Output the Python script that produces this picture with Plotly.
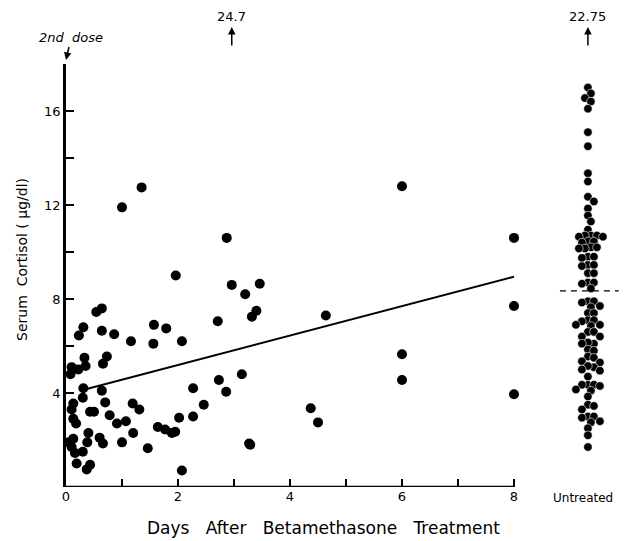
import plotly.graph_objects as go

# ---------------- data ----------------
treated_days = [1.0, 1.35, 1.96, 2.87, 2.96, 3.2, 3.46, 3.4, 3.32, 2.71, 0.54, 0.64,
                6.0, 8.0, 8.0, 8.0, 6.0, 6.0, 4.64, 4.37, 4.5, 3.29,
                1.57, 1.79, 1.56, 2.07, 1.16, 0.86, 0.64, 0.31, 0.23, 0.33, 0.73, 0.66,
                0.1, 0.22, 0.35, 0.31, 0.64, 0.3, 0.13, 0.1, 0.43, 0.5, 0.7, 0.78,
                1.19, 1.31, 0.91, 1.07, 0.13, 0.18, 0.4, 0.13, 0.6, 0.66, 0.38, 1.0,
                1.2, 1.46, 1.64, 1.77, 1.89, 1.95, 2.02, 2.27, 2.27, 2.46, 2.73, 2.86,
                3.14, 3.27, 2.07, 0.1, 0.16, 0.3, 0.19, 0.37, 0.43, 0.05, 0.08]
treated_cortisol = [11.9, 12.75, 9.0, 10.6, 8.6, 8.2, 8.65, 7.5, 7.25, 7.05, 7.45, 7.6,
                    12.8, 10.6, 7.7, 3.95, 5.65, 4.55, 7.3, 3.35, 2.75, 1.8,
                    6.9, 6.75, 6.1, 6.2, 6.2, 6.5, 6.65, 6.8, 6.45, 5.5, 5.55, 5.25,
                    5.1, 5.0, 5.15, 4.2, 4.1, 3.8, 3.55, 3.3, 3.2, 3.2, 3.6, 3.05,
                    3.55, 3.3, 2.7, 2.8, 2.9, 2.7, 2.3, 2.05, 2.1, 1.85, 1.9, 1.9,
                    2.3, 1.65, 2.55, 2.45, 2.3, 2.35, 2.95, 3.0, 4.2, 3.5, 4.55, 4.05,
                    4.8, 1.85, 0.7, 1.7, 1.45, 1.5, 1.0, 0.75, 0.95, 1.9, 4.8]

untreated_cortisol = [17.0, 16.75, 16.55, 16.4, 16.1, 15.1, 14.5, 13.35, 13.0, 12.35,
                      12.15, 11.85, 11.55, 11.3, 10.95, 10.7, 10.7, 10.65, 10.7, 10.65,
                      10.45, 10.45, 10.4, 10.2, 10.15, 10.2, 10.15, 9.8, 9.8, 9.75,
                      9.45, 9.45, 9.4, 9.1, 9.1, 8.7, 8.65, 8.7, 8.45, 7.9, 7.9, 7.85,
                      7.65, 7.7, 7.4, 7.4, 7.1, 7.1, 7.05, 6.9, 6.9, 6.85, 6.6, 6.6,
                      6.4, 6.4, 6.1, 6.15, 6.1, 5.85, 5.8, 5.55, 5.5, 5.35, 5.3, 5.1,
                      5.15, 5.0, 4.95, 4.7, 4.35, 4.35, 4.3, 4.35, 4.15, 4.1, 3.85,
                      3.5, 3.45, 3.3, 3.0, 3.0, 2.95, 2.8, 2.75, 2.5, 2.2, 1.7]
untreated_mean = 8.35

fit_days = [0.3, 8.0]
fit_cortisol = [4.13, 8.95]

offscale_labels = ["24.7", "22.75"]
offscale_days = [2.96, None]   # second one belongs to the untreated column

x_tickvals = [0, 1, 2, 3, 4, 5, 6, 7, 8]
x_ticktext = ["0", "", "2", "", "4", "", "6", "", "8"]
y_tickvals = [0, 2, 4, 6, 8, 10, 12, 14, 16, 18]
y_ticktext = ["", "", "4", "", "8", "", "12", "", "16", ""]

# ---------------- layout constants ----------------
W, H = 628, 541
ML, MR, MT, MB = 66, 2, 64, 54
XMAX, YMAX = 10.0, 18.0
PXX = (W - ML - MR) / XMAX      # px per day
PXY = (H - MT - MB) / YMAX      # px per ug/dl
PH = H - MT - MB
UNTREATED_X = 9.32
FONT = "DejaVu Sans"

# beeswarm offsets for the untreated column (computed in pixel space)
def swarm(vals, dmin=6.0, step=3.0):
    order = sorted(range(len(vals)), key=lambda i: -vals[i])
    placed, offs = [], [0.0] * len(vals)
    for i in order:
        yp = vals[i] * PXY
        k = 0
        while True:
            cand = [0.0] if k == 0 else [k * step, -k * step]
            ok = None
            for xo in cand:
                if all((xo - a) ** 2 + (yp - b) ** 2 >= dmin ** 2 for a, b in placed):
                    ok = xo
                    break
            if ok is not None:
                placed.append((ok, yp))
                offs[i] = ok / PXX
                break
            k += 1
    return offs

u_x = [UNTREATED_X + o for o in swarm(untreated_cortisol)]

fig = go.Figure()
fig.add_trace(go.Scatter(x=treated_days, y=treated_cortisol, mode="markers",
                         marker=dict(color="black", size=10), cliponaxis=False,
                         showlegend=False))
fig.add_trace(go.Scatter(x=u_x, y=untreated_cortisol, mode="markers",
                         marker=dict(color="black", size=8.5,
                                     line=dict(color="white", width=0.6)),
                         cliponaxis=False, showlegend=False))
fig.add_trace(go.Scatter(x=fit_days, y=fit_cortisol, mode="lines",
                         line=dict(color="black", width=2), showlegend=False))
fig.add_trace(go.Scatter(x=[UNTREATED_X - 0.5, UNTREATED_X + 0.55],
                         y=[untreated_mean, untreated_mean], mode="lines",
                         line=dict(color="black", width=1.2, dash="6px,5px"),
                         showlegend=False))

# x axis line only from 0 to 8
fig.add_shape(type="line", xref="x", yref="y", x0=0, x1=8, y0=0, y1=0,
              line=dict(color="black", width=2.5))

ann = []
# 2nd dose arrow
ann.append(dict(x=0, y=(H - MB - 60) / PH, xref="x", yref="paper",
                text="<i>2nd  dose</i>", showarrow=True, arrowhead=2, arrowsize=1,
                arrowwidth=1.5, arrowcolor="black", ax=5, ay=-22, standoff=0,
                font=dict(family=FONT, size=13, color="black")))
# off-scale values
for lab, xd in zip(offscale_labels, [offscale_days[0], UNTREATED_X]):
    ann.append(dict(x=xd, y=(H - MB - 27) / PH, xref="x", yref="paper",
                    text="", showarrow=True, arrowhead=2, arrowsize=1, arrowwidth=1.5,
                    arrowcolor="black", ax=0, ay=20, standoff=0))
    ann.append(dict(x=xd, y=(H - MB - 16) / PH, xref="x", yref="paper",
                    text=lab, showarrow=False, xanchor="center", yanchor="middle",
                    font=dict(family=FONT, size=13, color="black")))
ann.append(dict(x=UNTREATED_X - 0.08, y=-11 / PH, xref="x", yref="paper",
                text="Untreated", showarrow=False, xanchor="center", yanchor="middle",
                font=dict(family=FONT, size=12, color="black")))
gap = "\u00a0" * 3
ann.append(dict(x=(323 - ML) / PXX, y=-41 / PH, xref="x", yref="paper",
                text=gap.join(["Days", "After", "Betamethasone", "Treatment"]),
                showarrow=False, xanchor="center", yanchor="middle",
                font=dict(family=FONT, size=17, color="black")))
ann.append(dict(x=-44 / (W - ML - MR), y=(H - MB - 260) / PH,
                xref="paper", yref="paper", textangle=-90,
                xanchor="center", yanchor="middle",
                text="Serum\u00a0\u00a0Cortisol\u00a0( \u03bcg/dl)", showarrow=False,
                font=dict(family=FONT, size=14, color="black")))

fig.update_layout(
    width=W, height=H, margin=dict(l=ML, r=MR, t=MT, b=MB),
    paper_bgcolor="white", plot_bgcolor="white",
    annotations=ann,
    xaxis=dict(range=[0, XMAX], showgrid=False, zeroline=False, showline=False,
               tickmode="array", tickvals=x_tickvals, ticktext=x_ticktext,
               ticks="inside", ticklen=8, tickwidth=1.5, tickcolor="black",
               tickfont=dict(family=FONT, size=13, color="black")),
    yaxis=dict(range=[0, YMAX], showgrid=False, zeroline=False, showline=True,
               linecolor="black", linewidth=2.5,
               tickmode="array", tickvals=y_tickvals, ticktext=y_ticktext,
               ticks="inside", ticklen=8, tickwidth=1.5, tickcolor="black",
               tickfont=dict(family=FONT, size=13, color="black")),
)

fig.write_html("out.html")
